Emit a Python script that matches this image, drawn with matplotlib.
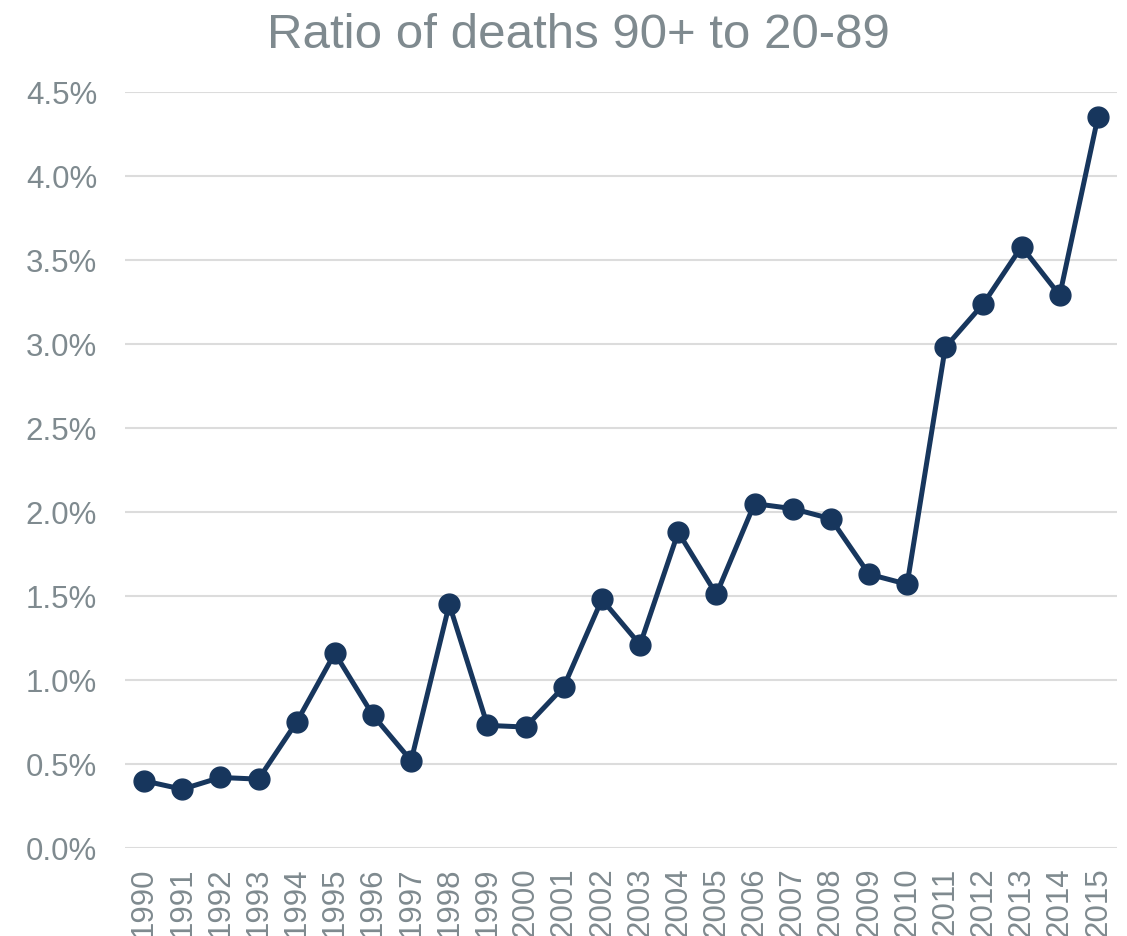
import matplotlib.pyplot as plt
from matplotlib.ticker import PercentFormatter

plt.rcParams["font.family"] = ["Liberation Sans", "DejaVu Sans"]

# ratio of deaths aged 90+ to deaths aged 20-89, in percent
years = list(range(1990, 2016))
ratio = [0.40, 0.35, 0.42, 0.41, 0.75, 1.16, 0.79, 0.52, 1.45, 0.73,
         0.72, 0.96, 1.48, 1.21, 1.88, 1.51, 2.05, 2.02, 1.96, 1.63,
         1.57, 2.98, 3.24, 3.58, 3.29, 4.35]
year_labels = [str(y) for y in years]

text_col = "#7f8a8f"
line_col = "#17365d"
grid_col = "#dcdcdc"

fig = plt.figure(figsize=(11.27, 9.36), dpi=100)
ax = fig.add_axes([0.1109, 0.094, 0.8802, 0.8077])

x = list(range(len(years)))
ax.plot(x, ratio, color=line_col, lw=3.6, marker="o", ms=15, zorder=3)

ax.set_xlim(-0.5, len(years) - 0.5)
ax.set_ylim(0, 4.5)
ax.set_yticks([i * 0.5 for i in range(10)])
ax.yaxis.set_major_formatter(PercentFormatter(decimals=1))
ax.set_xticks(x)
ax.set_xticklabels(year_labels, rotation=90)

ax.grid(axis="y", color=grid_col, lw=1.5)
ax.set_axisbelow(True)
for s in ax.spines.values():
    s.set_visible(False)
ax.tick_params(axis="both", length=0, labelsize=22.5, labelcolor=text_col)
ax.tick_params(axis="y", pad=20)
ax.tick_params(axis="x", pad=14)

fig.text(0.513, 0.962, "Ratio of deaths 90+ to 20-89", ha="center", va="center",
         fontsize=35.5, color=text_col)

fig.savefig("out.png", dpi=100)
